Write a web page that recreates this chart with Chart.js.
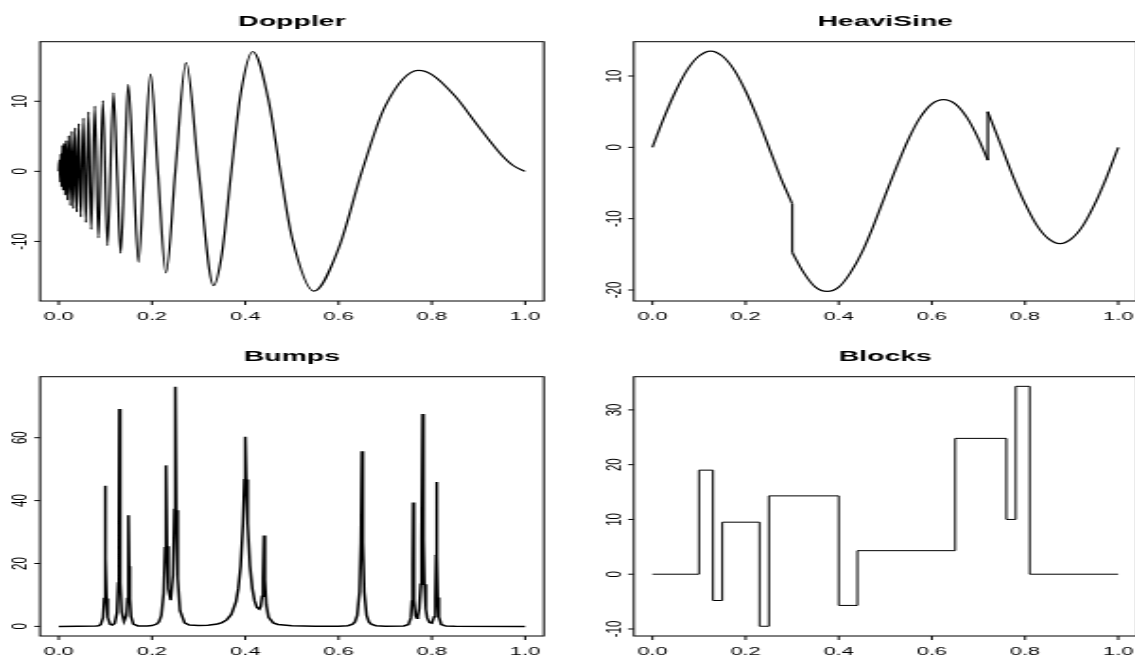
<!DOCTYPE html>
<html>
<head>
<meta charset="utf-8">
<script src="https://cdn.jsdelivr.net/npm/chart.js@4.4.1/dist/chart.umd.min.js"></script>
<style>
  html, body { margin: 0; padding: 0; background: #fff; overflow: hidden; }
  #page { position: relative; width: 1135px; height: 657px; overflow: hidden; background: #fff; }
  canvas { position: absolute; }
</style>
</head>
<body>
<div id="page">
  <canvas id="doppler" width="300" height="328"></canvas>
  <canvas id="heavisine" width="310" height="328"></canvas>
  <canvas id="bumps" width="300" height="329"></canvas>
  <canvas id="blocks" width="310" height="329"></canvas>
</div>
<script>
// values
const xTicks = [0, 0.2, 0.4, 0.6, 0.8, 1.0]
const xTickLabels = ['0.0', '0.2', '0.4', '0.6', '0.8', '1.0']

const dopplerX = [0, 0.0015, 0.003, 0.0045, 0.0058, 0.008, 0.0094, 0.0116, 0.0137, 0.0159, 0.0187,
  0.0216, 0.0251, 0.0281, 0.0315, 0.0352, 0.0388, 0.0431, 0.0474, 0.053, 0.0581, 0.0638, 0.0695,
  0.0774, 0.0852, 0.0946, 0.1045, 0.1174, 0.125, 0.1325, 0.141, 0.149, 0.16, 0.171, 0.183, 0.197,
  0.2125, 0.23, 0.25, 0.273, 0.30, 0.332, 0.35, 0.37, 0.39, 0.416, 0.45, 0.475, 0.5, 0.547, 0.6, 0.65,
  0.7, 0.771, 0.8, 0.85, 0.9, 0.95, 0.975, 1.0]
const dopplerY = [0, 1.6, -1.5, 2.5, -2.2, 3.7, -2.7, 4.0, -3.4, 4.4, -4.1,
  5.1, -4.9, 5.7, -5.3, 6.2, -5.8, 6.8, -6.5, 7.6, -7.3, 8.5, -8.3,
  9.3, -9.5, 10.1, -10.6, 11.2, 0, -11.7, 0, 12.4, 0, -13.0, 0, 13.9,
  0, -14.5, 0, 15.5, 0, -16.3, -11.7, 0, 11.0, 17.1, 10.1, 0, -9.4, -17.1, -11.0, 0,
  9.3, 14.4, 13.8, 10.7, 6.4, 2.3, 0.8, 0]
const dopplerTicks = [-10, 0, 10]

const heaviX = [0, 0.025, 0.05, 0.075, 0.1, 0.125, 0.15, 0.175, 0.2, 0.225, 0.25, 0.275, 0.3, 0.3,
  0.325, 0.35, 0.375, 0.4, 0.425, 0.45, 0.475, 0.5, 0.525, 0.55, 0.575, 0.6, 0.625, 0.65, 0.675,
  0.7, 0.72, 0.72, 0.75, 0.775, 0.8, 0.825, 0.85, 0.875, 0.9, 0.925, 0.95, 0.975, 1.0]
const heaviY = [0, 4.2, 7.9, 10.9, 12.8, 13.5, 12.8, 10.9, 7.9, 4.2, 0, -4.2, -7.9, -14.7,
  -17.6, -19.6, -20.2, -19.6, -17.6, -14.7, -10.9, -6.7, -2.6, 1.2, 4.2, 6.1, 6.7, 6.1, 4.2,
  1.2, -1.8, 5.0, 0, -4.2, -7.9, -10.9, -12.8, -13.5, -12.8, -10.9, -7.9, -4.2, 0]
const heaviTicks = [-20, -10, 0, 10]

const bumpsX = [0, 0.08, 0.085, 0.09, 0.095, 0.0975, 0.099, 0.1, 0.101, 0.1025, 0.105, 0.11, 0.115,
  0.12, 0.125, 0.1275, 0.129, 0.13, 0.131, 0.1325, 0.135, 0.14, 0.145, 0.1475, 0.149, 0.15, 0.151,
  0.1525, 0.155, 0.16, 0.17, 0.18, 0.19, 0.2, 0.21, 0.215, 0.22, 0.225, 0.228, 0.23, 0.232, 0.235,
  0.24, 0.245, 0.248, 0.25, 0.252, 0.255, 0.26, 0.27, 0.28, 0.3, 0.32, 0.34, 0.35, 0.36, 0.37, 0.38,
  0.385, 0.39, 0.395, 0.398, 0.4, 0.402, 0.405, 0.41, 0.415, 0.42, 0.425, 0.43, 0.433, 0.436, 0.438,
  0.44, 0.442, 0.445, 0.45, 0.46, 0.47, 0.5, 0.55, 0.6, 0.62, 0.63, 0.635, 0.64, 0.645, 0.648, 0.65,
  0.652, 0.655, 0.66, 0.665, 0.67, 0.68, 0.7, 0.74, 0.75, 0.755, 0.7575, 0.759, 0.76, 0.761, 0.7625,
  0.765, 0.768, 0.77, 0.773, 0.776, 0.778, 0.78, 0.782, 0.784, 0.787, 0.79, 0.795, 0.8, 0.805, 0.8075,
  0.809, 0.81, 0.811, 0.8125, 0.815, 0.82, 0.83, 0.85, 1.0]
const bumpsY = [0, 0.1, 0.2, 0.55, 2.8, 8.9, 21.6, 44.7, 21.6, 8.9, 2.9, 0.7, 0.45,
  0.95, 4.4, 13.8, 33.4, 69.1, 33.4, 13.9, 4.6, 1.6, 3.4, 8.9, 19.2, 35.3, 19.1,
  8.8, 3.2, 0.75, 0.15, 0.1, 0.12, 0.26, 0.75, 1.5, 3.5, 10.5, 25, 51.2, 25.5, 11.9,
  8.3, 16.3, 37.2, 76.2, 36.9, 15.3, 5.0, 1.1, 0.45, 0.25, 0.35, 0.75, 1.2, 2.05, 3.8, 7.8,
  12.0, 19.1, 32.6, 46.6, 60.3, 46.7, 32.7, 19.2, 12.1, 8.1, 6.0, 5.5, 6.3, 9.6, 15.3,
  28.9, 14.8, 6.9, 2.9, 1.1, 0.6, 0.2, 0.05, 0.06, 0.23, 0.7, 1.4, 3.5, 11.0, 26.8, 55.7,
  26.8, 11.0, 3.5, 1.4, 0.7, 0.23, 0.05, 0.12, 0.6, 2.7, 8.1, 19.4, 39.4, 19.3, 8.4,
  3.4, 2.6, 3.1, 5.7, 13.4, 27.7, 67.5, 27.7, 13.4, 5.5, 2.7, 1.2, 1.0, 3.1, 9.3,
  22.3, 45.9, 22.2, 9.2, 3.0, 0.6, 0.1, 0.02, 0]
const bumpsTicks = [0, 20, 40, 60]

const blocksX = [0, 0.1, 0.13, 0.15, 0.23, 0.25, 0.40, 0.44, 0.65, 0.76, 0.78, 0.81, 1.0]
const blocksY = [0, 19.0, -4.8, 9.5, -9.5, 14.3, -5.7, 4.3, 24.8, 10.0, 34.3, 0, 0]
const blocksTicks = [-10, 0, 10, 20, 30]

// the reference is an R plot stretched sideways, so draw narrow and stretch with css
const stretch = 1135 / 600

const pts = (xs, ys) => xs.map((x, i) => ({ x: x, y: ys[i] }))

const line = (data, extra) => Object.assign({
  data: data,
  borderColor: '#000',
  borderWidth: 1.2,
  pointRadius: 0,
  fill: false
}, extra)

// split a series where x repeats (jumps), keep smooth pieces + straight jumps
function splitJumps(xs, ys) {
  const out = []
  let piece = [{ x: xs[0], y: ys[0] }]
  for (let i = 1; i < xs.length; i++) {
    if (xs[i] === xs[i - 1]) {
      out.push(line(piece, { cubicInterpolationMode: 'monotone' }))
      out.push(line([{ x: xs[i - 1], y: ys[i - 1] }, { x: xs[i], y: ys[i] }], { tension: 0 }))
      piece = []
    }
    piece.push({ x: xs[i], y: ys[i] })
  }
  out.push(line(piece, { cubicInterpolationMode: 'monotone' }))
  return out
}

const rAxes = {
  id: 'rAxes',
  afterDraw: (chart, args, opts) => {
    const ctx = chart.ctx
    const a = chart.chartArea
    const x = chart.scales.x
    const y = chart.scales.y
    ctx.save()
    ctx.strokeStyle = '#000'
    ctx.fillStyle = '#000'
    ctx.lineWidth = 1
    ctx.strokeRect(a.left, a.top, a.right - a.left, a.bottom - a.top)

    ctx.font = '11.5px "Liberation Sans", Arial, sans-serif'
    ctx.textAlign = 'center'
    ctx.textBaseline = 'middle'
    xTicks.forEach((v, i) => {
      const px = x.getPixelForValue(v)
      ctx.beginPath()
      ctx.moveTo(px, a.bottom)
      ctx.lineTo(px, a.bottom + 4)
      ctx.stroke()
      ctx.fillText(xTickLabels[i], px, a.bottom + 15.7)
    })
    opts.yTicks.forEach(v => {
      const py = y.getPixelForValue(v)
      ctx.beginPath()
      ctx.moveTo(a.left, py)
      ctx.lineTo(a.left - 3, py)
      ctx.stroke()
      ctx.save()
      ctx.translate(a.left - 10, py)
      ctx.rotate(-Math.PI / 2)
      ctx.fillText(String(v), 0, 0)
      ctx.restore()
    })

    ctx.font = 'bold 15px "Liberation Sans", Arial, sans-serif'
    ctx.fillText(opts.title, (a.left + a.right) / 2, a.top - 20)
    ctx.restore()
  }
}

const bg = {
  id: 'bg',
  beforeDraw: (chart) => {
    const ctx = chart.ctx
    ctx.save()
    ctx.fillStyle = '#fff'
    ctx.fillRect(0, 0, chart.width, chart.height)
    ctx.restore()
  }
}

function panel(id, left, top, datasets, yMin, yMax, yTicks, title, padding) {
  const canvas = document.getElementById(id)
  canvas.style.left = left + 'px'
  canvas.style.top = top + 'px'
  canvas.style.width = (canvas.width * stretch) + 'px'
  canvas.style.height = canvas.height + 'px'
  return new Chart(canvas.getContext('2d'), {
    type: 'line',
    data: { datasets: datasets },
    options: {
      responsive: false,
      animation: false,
      devicePixelRatio: 1,
      layout: { padding: padding },
      plugins: {
        legend: { display: false },
        tooltip: { enabled: false },
        rAxes: { yTicks: yTicks, title: title }
      },
      scales: {
        x: { type: 'linear', min: -0.04, max: 1.04, display: false },
        y: { type: 'linear', min: yMin, max: yMax, display: false }
      }
    },
    plugins: [bg, rAxes]
  })
}

const leftX = 0
const rightX = 300 * stretch

panel('doppler', leftX, 0,
  [line(pts(dopplerX, dopplerY), { cubicInterpolationMode: 'monotone' })],
  -18.5, 18.5, dopplerTicks, 'Doppler',
  { left: 21.15, right: 12.8, top: 41.7, bottom: 27 })

panel('heavisine', rightX, 0,
  splitJumps(heaviX, heaviY),
  -21.54, 14.81, heaviTicks, 'HeaviSine',
  { left: 34.8, right: 9.1, top: 41.7, bottom: 27 })

panel('bumps', leftX, 328,
  [line(pts(bumpsX, bumpsY), { tension: 0, borderWidth: 1.5 })],
  -3.06, 79.4, bumpsTicks, 'Bumps',
  { left: 21.15, right: 12.8, top: 48.7, bottom: 21 })

panel('blocks', rightX, 328,
  [line(pts(blocksX, blocksY), { stepped: 'before', borderWidth: 1 })],
  -11.28, 36.06, blocksTicks, 'Blocks',
  { left: 34.8, right: 9.1, top: 48.7, bottom: 21 })
</script>
</body>
</html>
